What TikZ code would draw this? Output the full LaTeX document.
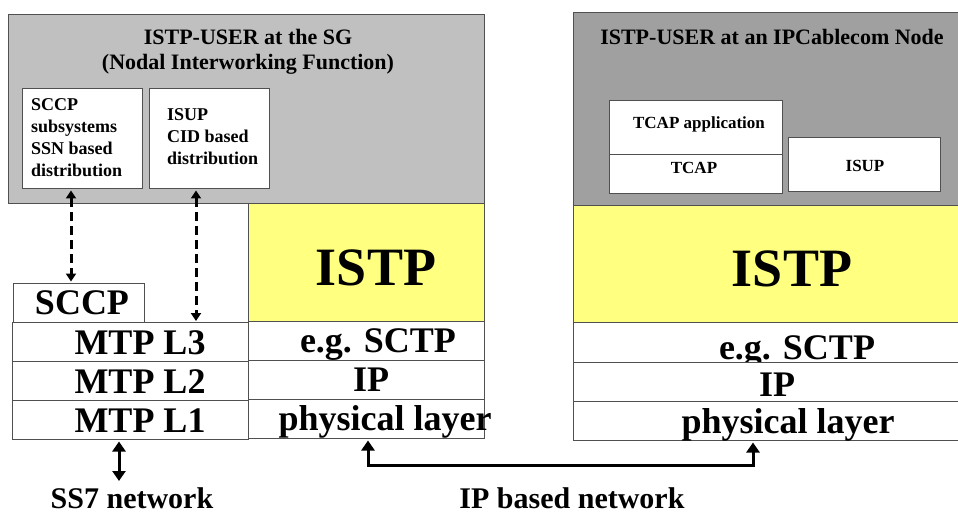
\documentclass[tikz,border=0pt]{standalone}
\usepackage{fontspec}
\setmainfont{Liberation Serif}
\usetikzlibrary{arrows.meta}
\definecolor{sggray}{HTML}{C0C0C0}
\definecolor{ipgray}{HTML}{A0A0A0}
\definecolor{istpyellow}{HTML}{FFFF80}
\definecolor{edgegray}{HTML}{505050}
\tikzset{
  box/.style={draw=edgegray, line width=1pt, rectangle, inner sep=0pt, anchor=north west, fill=white},
  txt/.style={inner sep=0pt, font=\bfseries},
  bigtxt/.style={txt, font=\fontsize{36}{40}\selectfont\bfseries},
  smalltxt/.style={txt, font=\fontsize{18}{22}\selectfont\bfseries, align=left},
  titletxt/.style={txt, font=\fontsize{22}{27}\selectfont\bfseries},
  dasharrow/.style={line width=3pt, dash pattern=on 9pt off 5pt, {Triangle[length=8pt,width=10pt]}-{Triangle[length=8pt,width=10pt]}},
  solidarrow/.style={line width=3pt, {Triangle[length=10pt,width=13pt]}-{Triangle[length=10pt,width=13pt]}}
}
\begin{document}
\begin{tikzpicture}[x=1pt,y=-1pt]
\useasboundingbox (0,0) rectangle (958,513);
% ---------- left: SG ----------
\node[box, fill=sggray, minimum width=476pt, minimum height=189pt] (sg) at (8,14) {};
\node[titletxt] (sgt1) at (248,37) {ISTP-USER at the SG};
\node[titletxt] (sgt2) at (248,64) {(Nodal Interworking Function)};
\node[box, minimum width=120pt, minimum height=100pt] (sccpss) at (22,88) {};
\node[smalltxt, anchor=north west] (sccpsst) at (31,98) {SCCP\\subsystems\\SSN based\\distribution};
\node[box, minimum width=120pt, minimum height=100pt] (isup) at (149,88) {};
\node[smalltxt, anchor=north west] (isupt) at (167,108) {ISUP\\CID based\\distribution};
\node[box, fill=istpyellow, minimum width=236pt, minimum height=118pt] (istp) at (248,203) {};
\node[txt, font=\fontsize{54}{60}\selectfont\bfseries] (istpt) at (376,268) {ISTP};
\node[box, minimum width=131pt, minimum height=39pt] (sccp) at (13,283) {};
\node[bigtxt, anchor=base] (sccpt) at (82,314) {SCCP};
\node[box, minimum width=236pt, minimum height=39pt] (mtp3) at (12,322) {};
\node[bigtxt, anchor=base] (mtp3t) at (140,354) {MTP L3};
\node[box, minimum width=236pt, minimum height=39pt] (mtp2) at (12,361) {};
\node[bigtxt, anchor=base] (mtp2t) at (140,393) {MTP L2};
\node[box, minimum width=236pt, minimum height=39pt] (mtp1) at (12,400) {};
\node[bigtxt, anchor=base] (mtp1t) at (140,432) {MTP L1};
\node[box, minimum width=236pt, minimum height=39pt] (sctp) at (248,321) {};
\node[bigtxt, anchor=base] (sctpt) at (378,352) {e.g. SCTP};
\node[box, minimum width=236pt, minimum height=39pt] (ip) at (248,360) {};
\node[bigtxt, anchor=base] (ipt) at (371,391) {IP};
\node[box, minimum width=236pt, minimum height=39pt] (phys) at (248,399) {};
\node[bigtxt, anchor=base] (physt) at (385,430) {physical layer};
% ---------- right: IPCablecom node ----------
\node[box, fill=ipgray, minimum width=385pt, minimum height=193pt] (ipc) at (573,12) {};
\node[titletxt] (ipct) at (772,37) {ISTP-USER at an IPCablecom Node};
\node[box, minimum width=173pt, minimum height=54pt] (tcapapp) at (609,100) {};
\node[txt, font=\fontsize{17}{20}\selectfont\bfseries] (tcapappt) at (699,124) {TCAP application};
\node[box, minimum width=173pt, minimum height=39pt] (tcap) at (609,154) {};
\node[txt, font=\fontsize{17}{20}\selectfont\bfseries] (tcapt) at (694,168) {TCAP};
\node[box, minimum width=152pt, minimum height=54pt] (isup2) at (788,137) {};
\node[txt, font=\fontsize{17}{20}\selectfont\bfseries] (isup2t) at (865,166) {ISUP};
\node[box, fill=istpyellow, minimum width=385pt, minimum height=117pt] (istp2) at (573,205) {};
\node[txt, font=\fontsize{54}{60}\selectfont\bfseries] (istp2t) at (792,269) {ISTP};
\node[box, minimum width=385pt, minimum height=40pt] (sctp2) at (573,322) {};
\node[bigtxt, anchor=base] (sctp2t) at (797,359) {e.g. SCTP};
\node[box, minimum width=385pt, minimum height=39pt] (ip2) at (573,362) {};
\node[bigtxt, anchor=base] (ip2t) at (777,396) {IP};
\node[box, minimum width=385pt, minimum height=39pt] (phys2) at (573,401) {};
\node[bigtxt, anchor=base] (phys2t) at (788,433) {physical layer};
% ---------- labels ----------
\node[txt, font=\fontsize{30}{34}\selectfont\bfseries] (ss7) at (132,498) {SS7 network};
\node[txt, font=\fontsize{30}{34}\selectfont\bfseries] (ipnet) at (572,498) {IP based network};
% ---------- connectors ----------
\draw[dasharrow, shorten <=1.5pt, shorten >=1.5pt] ([xshift=49pt]sccpss.south west) -- ([xshift=58pt]sccp.north west);
\draw[dasharrow, shorten <=1.5pt, shorten >=1pt] ([xshift=47pt]isup.south west) -- ([xshift=184pt]mtp3.north west);
\coordinate (ss7end) at (119,481);
\draw[solidarrow, shorten <=1.5pt] ([xshift=107pt]mtp1.south west) -- (ss7end);
\draw[solidarrow, shorten <=1.5pt, shorten >=1.5pt] ([xshift=120pt]phys.south west) -- ++(0,26) -| ([xshift=180pt]phys2.south west);
\end{tikzpicture}
\end{document}
